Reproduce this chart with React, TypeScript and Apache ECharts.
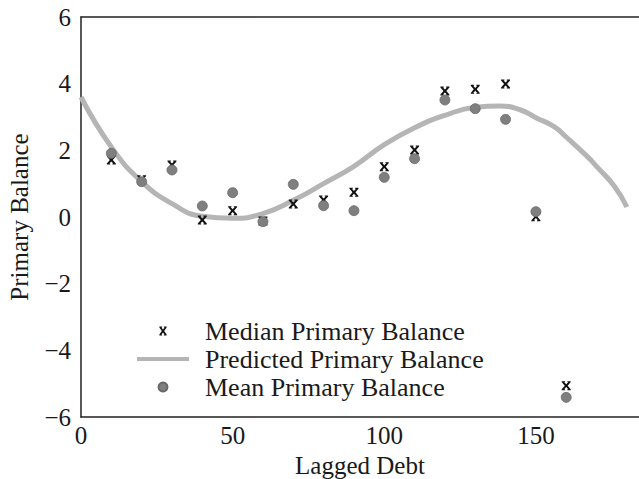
import React, { useEffect, useRef } from "react";
import * as echarts from "echarts";

const debt = [10, 20, 30, 40, 50, 60, 70, 80, 90, 100, 110, 120, 130, 140, 150, 160];
const medianPB = [1.71, 1.12, 1.56, -0.09, 0.19, -0.12, 0.39, 0.51, 0.74, 1.51, 2.01, 3.78, 3.83, 3.99, 0.01, -5.06];
const meanPB = [1.91, 1.06, 1.41, 0.33, 0.73, -0.14, 0.98, 0.34, 0.19, 1.19, 1.75, 3.51, 3.25, 2.93, 0.16, -5.41];
const predX = [0, 10, 20, 30, 40, 50, 60, 70, 80, 90, 100, 110, 120, 130, 138, 145, 150, 156, 160, 167, 170, 176, 180];
const predY = [3.6, 2.1, 1.06, 0.4, 0.02, -0.04, 0.1, 0.5, 1.0, 1.52, 2.17, 2.68, 3.05, 3.29, 3.33, 3.21, 2.98, 2.71, 2.4, 1.81, 1.52, 0.91, 0.3];
const yTicks = [-6, -4, -2, 0, 2, 4, 6];
const xTicks = [0, 50, 100, 150];

const NAMES = ["Median Primary Balance", "Predicted Primary Balance", "Mean Primary Balance"];
const FONT = "Liberation Serif";
const XMARK =
  "path://M1,0H4V1H1Z M6,0H9V1H6Z M1,9H4V10H1Z M6,9H9V10H6Z M1,1L3.2,1L5,3.4L6.8,1L9,1L6.3,5L9,9L6.8,9L5,6.6L3.2,9L1,9L3.7,5Z";
const LINEICON = "path://M0,0H52V4H0Z";

export default function App() {
  const ref = useRef<HTMLDivElement>(null);
  useEffect(() => {
    if (!ref.current) return;
    const chart = echarts.init(ref.current, undefined, { renderer: "svg" });
    const fmtNum = (v: number) => String(v).replace("-", "\u2212");
    chart.setOption({
      animation: false,
      backgroundColor: "#ffffff",
      textStyle: { fontFamily: FONT },
      grid: { left: 81, top: 17, right: 0, bottom: 62, containLabel: false, outerBoundsMode: "none" },
      legend: {
        orient: "vertical",
        left: 137,
        top: 317,
        padding: 0,
        itemWidth: 52,
        itemHeight: 9,
        itemGap: 0,
        selectedMode: false,
        textStyle: { fontFamily: FONT, fontSize: 26, color: "#1a1a1a", lineHeight: 28, padding: [0, 0, 0, 11] },
        data: [
          { name: NAMES[0], icon: XMARK, symbolKeepAspect: true, itemStyle: { color: "#111" } },
          { name: NAMES[1], icon: LINEICON, symbolKeepAspect: true, itemStyle: { color: "#b5b5b5" } },
          { name: NAMES[2], icon: "circle" },
        ],
      },
      xAxis: [
        {
          type: "value",
          min: 0,
          max: 184,
          interval: 50,
          name: "Lagged Debt",
          nameLocation: "middle",
          nameGap: 36,
          nameTextStyle: { fontFamily: FONT, fontSize: 25, color: "#1a1a1a" },
          axisLine: { show: true, onZero: false, lineStyle: { color: "#222", width: 1.5 } },
          axisTick: { show: false },
          splitLine: { show: false },
          axisLabel: {
            fontFamily: FONT,
            fontSize: 25,
            color: "#1a1a1a",
            margin: 6,
            formatter: (v: number) => (xTicks.includes(v) ? String(v) : ""),
          },
        },
        {
          type: "value",
          position: "top",
          min: 0,
          max: 184,
          axisLine: { show: true, onZero: false, lineStyle: { color: "#222", width: 1.5 } },
          axisTick: { show: false },
          axisLabel: { show: false },
          splitLine: { show: false },
        },
      ],
      yAxis: {
        type: "value",
        min: -6,
        max: 6,
        interval: 2,
        name: "Primary Balance",
        nameLocation: "middle",
        nameGap: 49,
        nameTextStyle: { fontFamily: FONT, fontSize: 25, color: "#1a1a1a" },
        axisLine: { show: true, onZero: false, lineStyle: { color: "#222", width: 1.5 } },
        axisTick: { show: false },
        splitLine: { show: false },
        axisLabel: {
          fontFamily: FONT,
          fontSize: 25,
          color: "#1a1a1a",
          margin: 10,
          formatter: (v: number) => (yTicks.includes(v) ? fmtNum(v) : ""),
        },
      },
      series: [
        {
          name: NAMES[1],
          type: "line",
          data: predX.map((x, i) => [x, predY[i]]),
          smooth: true,
          showSymbol: false,
          symbol: "none",
          lineStyle: { color: "#b5b5b5", width: 5 },
          itemStyle: { color: "#b5b5b5" },
          z: 1,
        },
        {
          name: NAMES[0],
          type: "scatter",
          data: debt.map((x, i) => [x, medianPB[i]]),
          symbol: XMARK,
          symbolSize: 9,
          itemStyle: { color: "#111", opacity: 1 },
          z: 2,
        },
        {
          name: NAMES[2],
          type: "scatter",
          data: debt.map((x, i) => [x, meanPB[i]]),
          symbol: "circle",
          symbolSize: 10,
          itemStyle: { color: "#7f7f7f", borderColor: "#6a6a6a", borderWidth: 0.8, opacity: 1 },
          z: 3,
        },
      ],
    });
    return () => chart.dispose();
  }, []);
  return (
    <div
      ref={ref}
      style={{ position: "absolute", left: 0, top: 0, width: 639, height: 479, background: "#fff" }}
    />
  );
}
